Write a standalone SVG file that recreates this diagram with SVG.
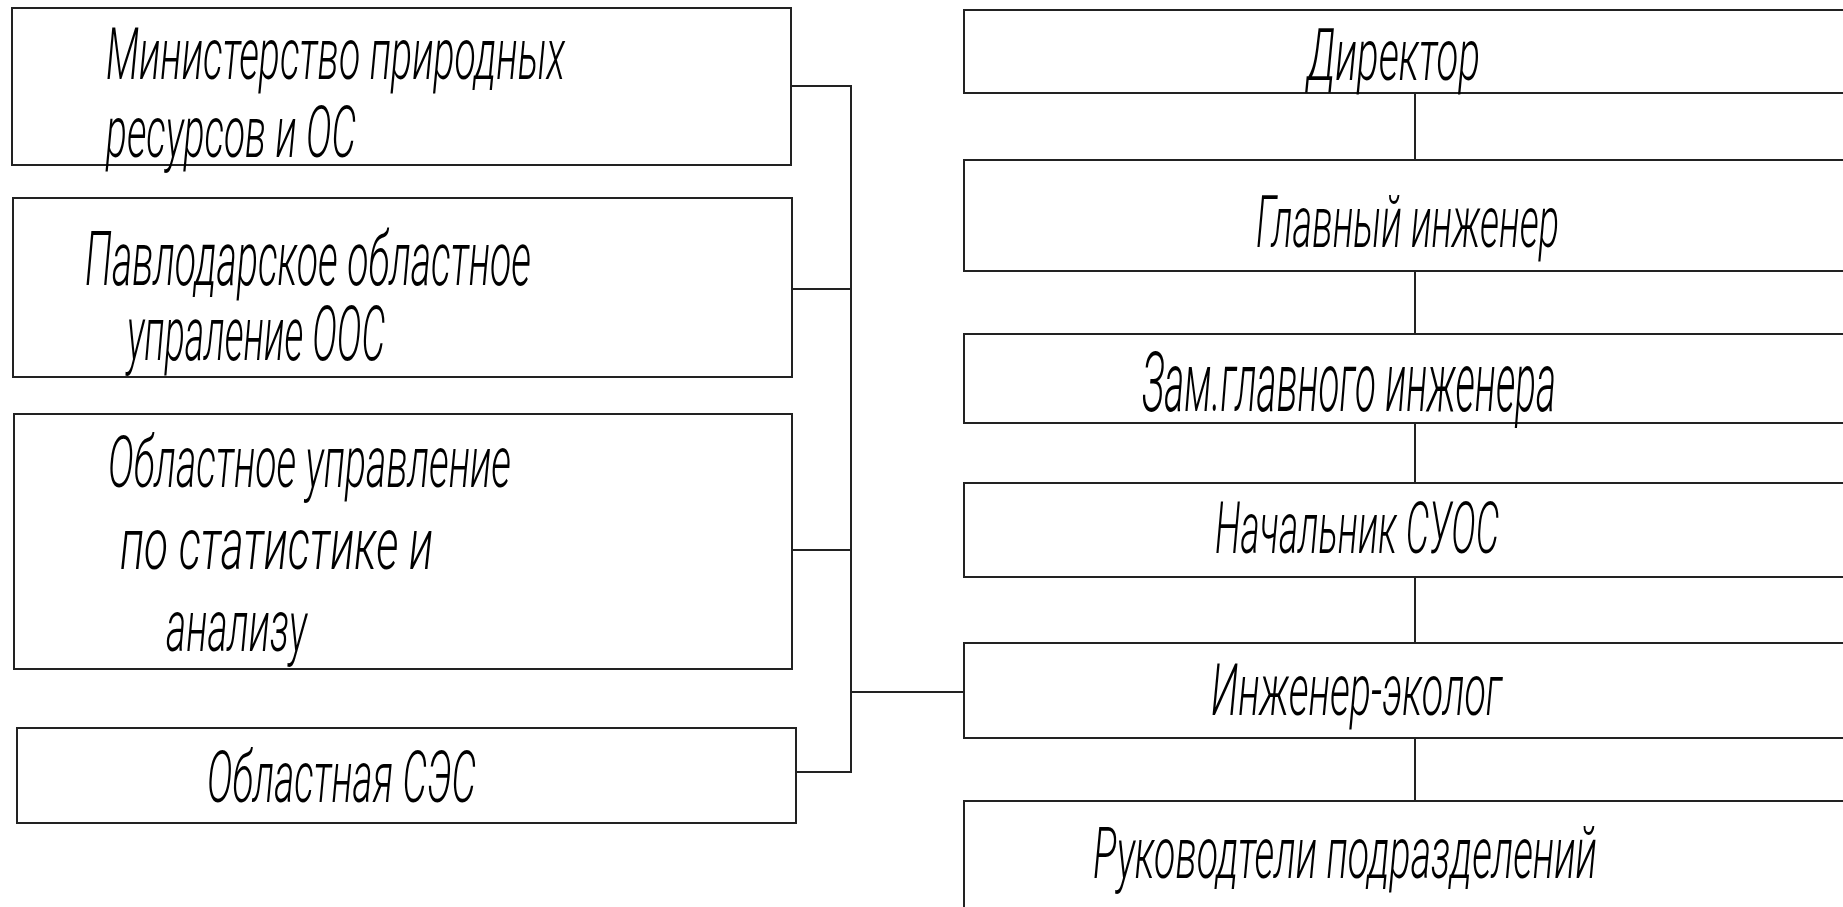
<svg xmlns="http://www.w3.org/2000/svg" width="1843" height="907" viewBox="0 0 1843 907">
<style>
.box{fill:#fff;stroke:#222;stroke-width:2}
.ln{fill:none;stroke:#222;stroke-width:2}
.t{font-family:Roboto,"Liberation Sans",sans-serif;font-style:italic;font-weight:300;font-size:72px;fill:#000}
.tb{font-size:84px}
.tm{font-size:76px}
</style>
<rect width="1843" height="907" fill="#fff"/>
<g id="connectors">
<polyline class="ln" points="791,86 851,86 851,772 796,772"/>
<line class="ln" x1="792" y1="289" x2="851" y2="289"/>
<line class="ln" x1="792" y1="550" x2="851" y2="550"/>
<line class="ln" x1="851" y1="692" x2="964" y2="692"/>
<line class="ln" x1="1415" y1="93" x2="1415" y2="160"/>
<line class="ln" x1="1415" y1="271" x2="1415" y2="334"/>
<line class="ln" x1="1415" y1="423" x2="1415" y2="483"/>
<line class="ln" x1="1415" y1="577" x2="1415" y2="643"/>
<line class="ln" x1="1415" y1="738" x2="1415" y2="801"/>
</g>
<g id="n-ministry">
<rect class="box" x="12" y="8" width="779" height="157"/>
<text class="t" x="106" y="79" textLength="459" lengthAdjust="spacingAndGlyphs">Министерство природных</text>
<text class="t" x="106" y="157" textLength="250" lengthAdjust="spacingAndGlyphs">ресурсов и ОС</text>
</g>
<g id="n-pavlodar">
<rect class="box" x="13" y="198" width="779" height="179"/>
<text class="t tm" x="85" y="285" textLength="446" lengthAdjust="spacingAndGlyphs">Павлодарское областное</text>
<text class="t tm" x="127" y="360" textLength="258" lengthAdjust="spacingAndGlyphs">упраление ООС</text>
</g>
<g id="n-stat">
<rect class="box" x="14" y="414" width="778" height="255"/>
<text class="t" x="108" y="487" textLength="403" lengthAdjust="spacingAndGlyphs">Областное управление</text>
<text class="t" x="120" y="569" textLength="313" lengthAdjust="spacingAndGlyphs">по статистике и</text>
<text class="t" x="166" y="651" textLength="141" lengthAdjust="spacingAndGlyphs">анализу</text>
</g>
<g id="n-ses">
<rect class="box" x="17" y="728" width="779" height="95"/>
<text class="t" x="207" y="802" textLength="269" lengthAdjust="spacingAndGlyphs">Областная СЭС</text>
</g>
<g id="n-director">
<rect class="box" x="964" y="10" width="900" height="83"/>
<text class="t" x="1307" y="80" textLength="173" lengthAdjust="spacingAndGlyphs">Директор</text>
</g>
<g id="n-chief">
<rect class="box" x="964" y="160" width="900" height="111"/>
<text class="t" x="1256" y="247" textLength="303" lengthAdjust="spacingAndGlyphs">Главный инженер</text>
</g>
<g id="n-deputy">
<rect class="box" x="964" y="334" width="900" height="89"/>
<text class="t tb" x="1142" y="411" textLength="414" lengthAdjust="spacingAndGlyphs">Зам.главного инженера</text>
</g>
<g id="n-head">
<rect class="box" x="964" y="483" width="900" height="94"/>
<text class="t" x="1215" y="553" textLength="284" lengthAdjust="spacingAndGlyphs">Начальник СУОС</text>
</g>
<g id="n-eco">
<rect class="box" x="964" y="643" width="900" height="95"/>
<text class="t" x="1211" y="715" textLength="291" lengthAdjust="spacingAndGlyphs">Инженер-эколог</text>
</g>
<g id="n-managers">
<rect class="box" x="964" y="801" width="900" height="120"/>
<text class="t" x="1093" y="878" textLength="504" lengthAdjust="spacingAndGlyphs">Руководтели подразделений</text>
</g>
</svg>
